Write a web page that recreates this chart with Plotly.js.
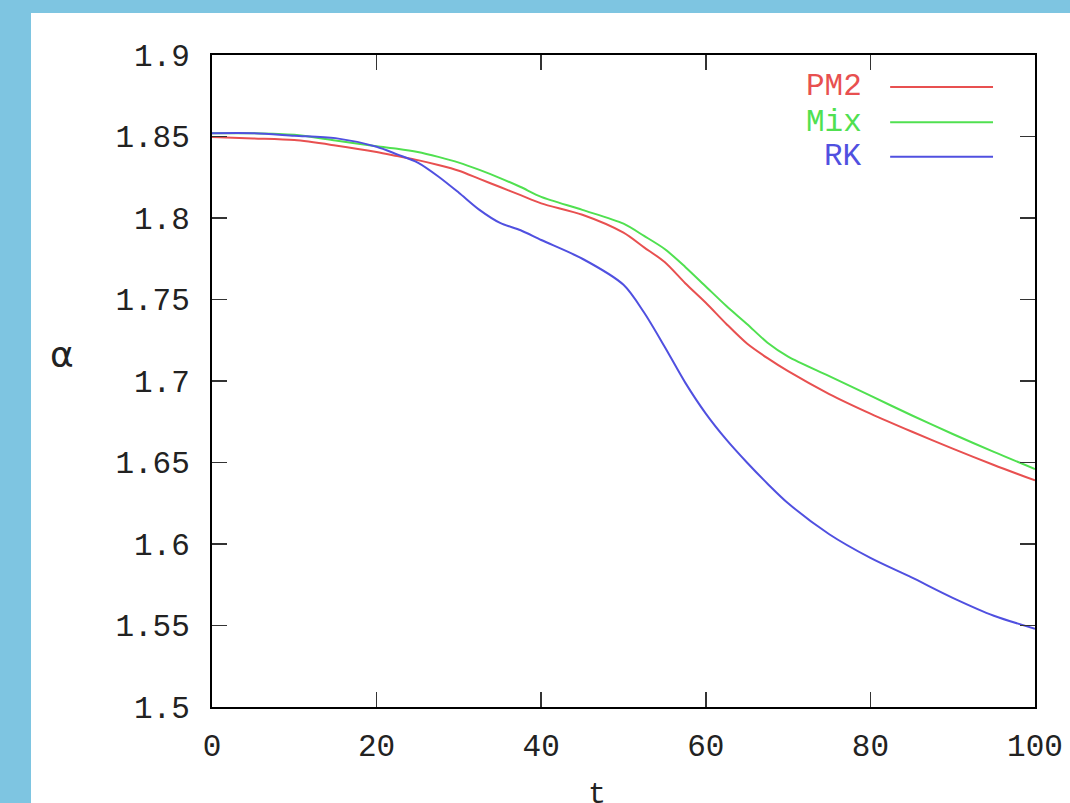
<!DOCTYPE html>
<html>
<head>
<meta charset="utf-8">
<script src="https://cdn.plot.ly/plotly-3.0.1.min.js"></script>
<style>
  html, body { margin: 0; padding: 0; background: #7EC5E1; width: 1070px; height: 803px; overflow: hidden; }
  #chart { position: absolute; left: 31px; top: 13px; width: 1039px; height: 790px; background: #ffffff; }
</style>
</head>
<body>
<div id="chart"></div>
<script>
// time samples
const t = [0, 5, 10, 15, 20, 22.5, 25, 27.5, 30, 32.5, 35, 37.5, 40, 45, 50, 52.5, 55, 57.5, 60, 62.5, 65, 67.5, 70, 75, 80, 85, 90, 95, 100];

// alpha(t) for each scheme
const pm2 = [1.8497, 1.8488, 1.8478, 1.8445, 1.8405, 1.838, 1.8355, 1.8325, 1.829, 1.824, 1.819, 1.814, 1.809, 1.802, 1.791, 1.782, 1.773, 1.760, 1.748, 1.735, 1.723, 1.714, 1.706, 1.692, 1.680, 1.669, 1.6585, 1.6485, 1.639];
const mix = [1.852, 1.852, 1.851, 1.8475, 1.844, 1.8425, 1.8405, 1.8375, 1.834, 1.8295, 1.8245, 1.819, 1.813, 1.805, 1.7965, 1.789, 1.781, 1.770, 1.758, 1.746, 1.735, 1.7235, 1.715, 1.703, 1.691, 1.679, 1.6675, 1.6565, 1.646];
const rk  = [1.852, 1.852, 1.8505, 1.849, 1.8437, 1.839, 1.834, 1.8255, 1.8155, 1.805, 1.797, 1.7925, 1.7865, 1.775, 1.759, 1.742, 1.721, 1.699, 1.680, 1.664, 1.650, 1.637, 1.625, 1.606, 1.5915, 1.5795, 1.567, 1.556, 1.548];

const names = ["PM2", "Mix", "RK"];
const colors = ["#E85050", "#50E050", "#5050E0"];
const series = [pm2, mix, rk];

const xTicks = [0, 20, 40, 60, 80, 100];
const yTicks = [1.5, 1.55, 1.6, 1.65, 1.7, 1.75, 1.8, 1.85, 1.9];

const FONT = "Liberation Mono, DejaVu Sans Mono, monospace";

const traces = series.map((ys, i) => ({
  x: t, y: ys, type: "scatter", mode: "lines", name: names[i],
  line: { color: colors[i], width: 2, shape: "spline", smoothing: 0.8 },
  showlegend: false, hoverinfo: "skip"
}));

// legend: label on the left, sample line on the right
const legY = [0.951, 0.897, 0.844];
const annotations = names.map((n, i) => ({
  xref: "paper", yref: "paper", x: 0.792, y: legY[i], xanchor: "right", yanchor: "middle",
  text: n, showarrow: false, font: { family: FONT, size: 31, color: colors[i] }
}));
const shapes = names.map((n, i) => ({
  type: "line", xref: "paper", yref: "paper", x0: 0.824, x1: 0.949, y0: legY[i], y1: legY[i],
  line: { color: colors[i], width: 2 }
}));

// axis symbols: alpha drawn upright on the left, t below the x axis
annotations.push({
  xref: "paper", yref: "paper", x: -0.182, y: 0.54, xanchor: "center", yanchor: "middle",
  text: "α", showarrow: false, font: { family: "DejaVu Sans, sans-serif", size: 36, color: "#222" }
});
annotations.push({
  xref: "paper", yref: "paper", x: 0.468, y: -0.106, xanchor: "center", yanchor: "top",
  text: "t", showarrow: false, font: { family: FONT, size: 30, color: "#222" }
});

const axisCommon = {
  showgrid: false, zeroline: false, showline: true, linecolor: "#000", linewidth: 2,
  mirror: "ticks", ticks: "inside", ticklen: 15, tickwidth: 1.5, tickcolor: "#333",
  tickfont: { family: FONT, size: 31, color: "#222" }
};

const layout = {
  width: 1039, height: 790,
  margin: { l: 181, r: 35, t: 42, b: 96 },
  paper_bgcolor: "#ffffff", plot_bgcolor: "#ffffff",
  xaxis: Object.assign({}, axisCommon, {
    range: [0, 100], tickvals: xTicks, ticktext: xTicks.map(String), ticklabelstandoff: 10
  }),
  yaxis: Object.assign({}, axisCommon, {
    range: [1.5, 1.9], tickvals: yTicks, ticktext: yTicks.map(v => String(v)), ticklabelstandoff: 14
  }),
  annotations: annotations,
  shapes: shapes,
  showlegend: false
};

Plotly.newPlot("chart", traces, layout, { staticPlot: true, displayModeBar: false });
</script>
</body>
</html>
